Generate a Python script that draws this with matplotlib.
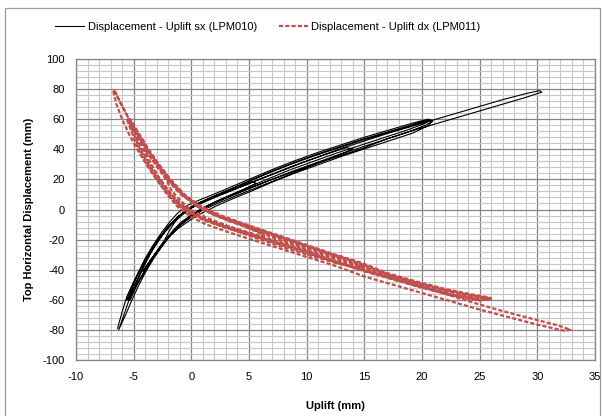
import matplotlib
matplotlib.use("Agg")
import matplotlib.pyplot as plt
from matplotlib.patches import Rectangle
from matplotlib.ticker import MultipleLocator

plt.rcParams['font.family'] = ['Liberation Sans', 'DejaVu Sans']
plt.rcParams['lines.scale_dashes'] = False
plt.rcParams['axes.unicode_minus'] = False

# ---------------- data: Displacement - Uplift sx (LPM010) ----------------
sx_c1_x = [-2.2, -1.6, -0.9, 0.0, 1.0, 2.2, 3.6, 4.9, 5.6,
           5.3, 4.2, 2.9, 1.6, 0.4, -0.6, -1.4, -1.9, -2.3]
sx_c1_y = [-20, -14, -8.5, -3.5, 1, 5.5, 10, 14.5, 17.5,
           18.5, 16, 12, 7.5, 3, -2, -8, -14, -20]

sx_c2_x = [-4.2, -3.5, -2.7, -1.9, -1.0, 0.0, 1.1, 2.4, 4.0, 5.8, 7.8, 9.9, 11.9, 13.5, 14.0,
           13.4, 11.6, 9.6, 7.6, 5.6, 3.8, 2.2, 0.9, -0.2, -1.1, -1.9, -2.6, -3.3, -3.8, -4.3]
sx_c2_y = [-41, -33, -25, -17.5, -10.5, -5, 0, 4.5, 9.5, 15, 21, 27.5, 33.5, 38.5, 40.5,
           41, 36.5, 31, 25, 19, 13.5, 9, 5, 0.5, -4.5, -10.5, -17.5, -25, -33, -41]

sx_c3a_x = [-5.4, -4.8, -4.2, -3.5, -2.8, -2.0, -1.1, -0.2, 0.8, 2.0, 3.4, 5.0, 6.8, 8.8, 10.8, 12.8, 14.8, 16.8, 18.8, 20.3, 20.9,
            20.5, 19.0, 17.0, 15.0, 13.0, 11.0, 9.0, 7.0, 5.0, 3.4, 2.0, 0.8, -0.2, -1.0, -1.8, -2.5, -3.2, -3.9, -4.5, -5.0, -5.5]
sx_c3a_y = [-60, -51, -43, -34, -26, -18, -11, -5, 0, 4.5, 9, 14, 19.5, 25.5, 31, 36.5, 41.5, 46.5, 51.5, 56, 58.5,
            59.5, 56, 51.5, 47, 42, 37, 31.5, 25.5, 19, 13.5, 9, 5, 1, -4, -10, -17, -25, -34, -43, -52, -60]

sx_c3b_x = [-5.5, -4.9, -4.3, -3.6, -2.9, -2.1, -1.2, -0.2, 0.9, 2.2, 3.7, 5.3, 7.1, 9.1, 11.1, 13.1, 15.1, 17.1, 19.1, 20.5, 20.9,
            20.4, 18.8, 16.8, 14.8, 12.8, 10.8, 8.8, 6.8, 4.8, 3.2, 1.8, 0.6, -0.4, -1.2, -2.0, -2.7, -3.4, -4.1, -4.7, -5.2, -5.6]
sx_c3b_y = [-60, -52, -44, -35, -27, -19.5, -13, -7.5, -2.5, 2.5, 7.5, 12.5, 18.5, 24.5, 30, 35.5, 40.5, 45.5, 50.5, 55.5, 58.5,
            59, 55, 50.5, 46, 41, 36, 30.5, 24.5, 18, 12.5, 8, 4, 0, -5, -11, -18, -26, -35, -44, -53, -60]

sx_c3c_x = [-5.3, -4.7, -4.1, -3.4, -2.6, -1.8, -0.9, 0.0, 1.0, 2.2, 3.5, 5.0, 6.7, 8.6, 10.6, 12.6, 14.6, 16.6, 18.6, 20.2, 20.8,
            20.5, 19.0, 17.0, 15.0, 13.0, 11.0, 9.0, 7.0, 5.0, 3.3, 1.9, 0.6, -0.4, -1.2, -1.9, -2.6, -3.3, -4.0, -4.6, -5.1, -5.4]
sx_c3c_y = [-60, -50, -42, -33, -25, -17, -10, -4, 1, 5.5, 10, 15, 20.5, 26.5, 32, 37.5, 42.5, 47.5, 52.5, 57, 59.5,
            60, 57, 52.5, 48, 43, 38, 32.5, 26.5, 20, 14.5, 10, 6, 2.5, -2.5, -8.5, -15.5, -23.5, -32.5, -42, -51, -60]

sx_c4_x = [-6.3, -5.7, -5.2, -4.6, -4.0, -3.3, -2.6, -1.8, -0.9, 0.0, 1.0, 2.2, 3.6, 5.2, 7.0, 9.0, 11.0, 13.0, 15.0,
           17.0, 19.0, 21.0, 23.0, 25.0, 27.0, 29.0, 30.4,
           30.2, 29.0, 27.0, 25.0, 23.0, 21.0, 19.0, 17.0, 15.0, 13.0, 11.0, 9.0, 7.0, 5.2, 3.6, 2.2, 1.0, 0.0,
           -0.8, -1.6, -2.3, -3.0, -3.7, -4.4, -5.0, -5.6, -6.0, -6.4]
sx_c4_y = [-80, -70, -61, -51, -42, -33, -25, -17, -10, -4.5, 0.5, 5, 9.5, 14.5, 20, 25.5, 31, 36, 41,
           47, 52, 56.5, 61, 65.5, 70, 74.5, 78,
           79, 77, 73, 68.5, 64, 59.5, 55, 50.5, 45.5, 40.5, 35, 29.5, 23.5, 18, 13, 8.5, 4.5, 1,
           -3.5, -9, -15, -22, -30, -39, -48, -58, -68, -79]

# ---------------- data: Displacement - Uplift dx (LPM011) ----------------
dx_c1_x = [-2.1, -1.0, 0.3, 1.8, 3.4, 5.0, 6.3,
           6.0, 4.6, 3.0, 1.5, 0.1, -0.9, -1.7, -2.2]
dx_c1_y = [20, 11, 3, -3, -8, -12.5, -17,
           -18, -15, -10.5, -6, -1, 5.5, 12.5, 20]

dx_c2_x = [-4.0, -3.1, -2.1, -0.9, 0.6, 2.3, 4.3, 6.8, 9.3, 11.8, 13.8, 14.9,
           14.2, 12.5, 10.3, 8.0, 5.6, 3.4, 1.6, 0.2, -0.9, -1.9, -2.8, -3.5, -4.1]
dx_c2_y = [40, 30, 20, 10, 2, -4, -9.5, -16, -22.5, -29, -34, -37.5,
           -38.5, -35.5, -30.5, -25, -19, -13, -8, -3, 3, 11.5, 21, 30.5, 40]

dx_c3a_x = [-5.4, -4.6, -3.8, -2.9, -1.9, -0.7, 0.8, 2.5, 4.5, 7.0, 9.5, 12.0, 14.5, 17.0, 19.5, 22.0, 24.3, 25.8, 25.9,
            25.0, 22.5, 20.0, 17.5, 15.0, 12.5, 10.0, 7.5, 5.0, 3.0, 1.3, 0.0, -1.1, -2.1, -3.0, -3.8, -4.5, -5.0, -5.5]
dx_c3a_y = [60, 50, 40, 30, 20, 10, 1.5, -4.5, -10, -16.5, -23, -29.5, -35.5, -43, -48.5, -53.5, -57, -59, -59.5,
            -60.5, -57, -52, -46.5, -41, -35, -28, -22, -16, -11.5, -7, -2.5, 3.5, 12, 21.5, 31, 41, 50.5, 60]

dx_c3b_x = [-5.5, -4.7, -3.9, -3.0, -2.0, -0.8, 0.7, 2.4, 4.4, 6.9, 9.4, 11.9, 14.4, 16.9, 19.4, 21.9, 24.2, 25.7, 25.8,
            24.9, 22.4, 19.9, 17.4, 14.9, 12.4, 9.9, 7.4, 4.9, 2.9, 1.2, -0.1, -1.2, -2.2, -3.1, -3.9, -4.6, -5.1, -5.6]
dx_c3b_y = [60, 50, 40, 30, 20, 10, 1, -5, -10.5, -17, -23.5, -30, -36.5, -43.5, -49, -54, -57.5, -59, -60,
            -60, -56.5, -51.5, -46, -40.5, -34.5, -28.5, -22.5, -16.5, -12, -7.5, -3, 3, 11.5, 21, 30.5, 40.5, 50, 60]

dx_c3c_x = [-5.3, -4.5, -3.7, -2.8, -1.8, -0.6, 0.9, 2.6, 4.6, 7.1, 9.6, 12.1, 14.6, 17.1, 19.6, 22.1, 24.4, 25.9, 26.0,
            25.1, 22.6, 20.1, 17.6, 15.1, 12.6, 10.1, 7.6, 5.1, 3.1, 1.4, 0.1, -1.0, -2.0, -2.9, -3.7, -4.4, -4.9, -5.4]
dx_c3c_y = [60, 50, 40, 30, 20, 10, 2, -4, -9.5, -16, -22.5, -29, -35, -42.5, -48, -53, -56.5, -58.5, -59.5,
            -60, -56.5, -51.5, -46, -40.5, -34.5, -27.5, -21.5, -15.5, -11, -6.5, -2, 4, 12.5, 22, 31.5, 41.5, 51, 60]

dx_c4_x = [-6.7, -6.1, -5.4, -4.6, -3.8, -2.9, -1.9, -0.7, 0.8, 2.5, 4.5, 7.0, 9.5, 12.0, 14.5, 17.0, 19.5, 22.0,
           24.5, 27.0, 29.5, 31.8, 32.9,
           32.3, 30.0, 27.5, 25.0, 22.5, 20.0, 17.5, 15.0, 12.5, 10.0, 7.5, 5.0, 3.0, 1.3, 0.0, -1.1, -2.1, -3.0,
           -3.9, -4.7, -5.4, -6.0, -6.5, -6.8]
dx_c4_y = [79.5, 70, 60, 50, 40, 30, 20, 10, 1.5, -5, -10.5, -18.5, -25, -31.5, -38, -44, -50, -56,
           -62, -67.5, -72.5, -77, -80,
           -80.5, -76.5, -71.5, -66.5, -61, -55.5, -50, -44.5, -37.5, -31.5, -25.5, -19.5, -14.5, -10, -5, 1, 10, 20,
           30, 40, 50, 60, 70, 79.5]

sx_x = sx_c1_x + sx_c2_x + sx_c3a_x + sx_c3b_x + sx_c3c_x + sx_c4_x
sx_y = sx_c1_y + sx_c2_y + sx_c3a_y + sx_c3b_y + sx_c3c_y + sx_c4_y
dx_x = dx_c1_x + dx_c2_x + dx_c3a_x + dx_c3b_x + dx_c3c_x + dx_c4_x
dx_y = dx_c1_y + dx_c2_y + dx_c3a_y + dx_c3b_y + dx_c3c_y + dx_c4_y

x_ticks = [-10, -5, 0, 5, 10, 15, 20, 25, 30, 35]
y_ticks = [-100, -80, -60, -40, -20, 0, 20, 40, 60, 80, 100]

# ---------------- figure ----------------
W, H = 604, 416
fig = plt.figure(figsize=(W / 100, H / 100), dpi=100)
fig.patch.set_facecolor('white')

# outer chart border
fig.add_artist(Rectangle((5 / W, -0.05), 595 / W, 1.05 - 8 / H, transform=fig.transFigure,
                         fill=False, edgecolor='#9a9a9a', linewidth=0.9))

ax = fig.add_axes([76 / W, 1 - 360 / H, (595 - 76) / W, (360 - 59) / H])
ax.set_xlim(-10, 35)
ax.set_ylim(-100, 100)
ax.set_xticks(x_ticks)
ax.set_yticks(y_ticks)
ax.xaxis.set_minor_locator(MultipleLocator(1))
ax.yaxis.set_minor_locator(MultipleLocator(4))
ax.grid(which='minor', color='#c8c8c8', linewidth=0.8)
ax.grid(which='major', color='#858585', linewidth=0.9)
ax.set_axisbelow(True)
for s in ax.spines.values():
    s.set_color('#858585')
    s.set_linewidth(0.9)
ax.tick_params(which='both', length=0)
ax.tick_params(axis='y', pad=8, labelsize=8)
ax.tick_params(axis='x', pad=9, labelsize=8)

ax.plot(sx_x, sx_y, color='black', linewidth=0.8, label='Displacement - Uplift sx (LPM010)', zorder=3)
ax.plot(dx_x, dx_y, color='#C0504D', linewidth=1.6, dashes=(3, 1.5),
        label='Displacement - Uplift dx (LPM011)', zorder=4)

ax.set_xlabel('Uplift (mm)', fontsize=8, fontweight='bold', labelpad=13)
ax.set_ylabel('Top Horizontal Displacement (mm)', fontsize=8, fontweight='bold', labelpad=6)

fig.legend(loc='center', bbox_to_anchor=(268 / W, 1 - 27 / H), ncol=2, frameon=False,
           fontsize=8, handlelength=2.6, handletextpad=0.3, columnspacing=2.0)

fig.savefig('out.png', dpi=100)
